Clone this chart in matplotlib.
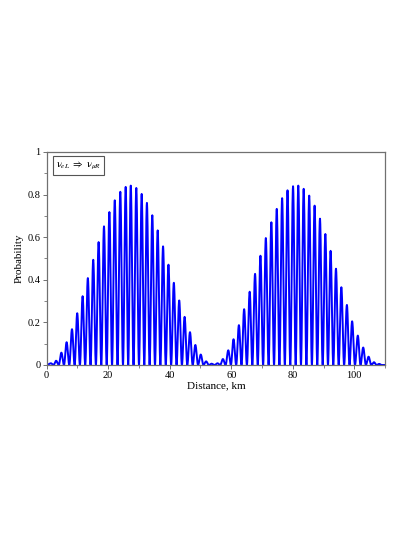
import numpy as np
import matplotlib
matplotlib.use("Agg")
import matplotlib.pyplot as plt

# Peak positions (km) and peak heights
peak_km = [1.4, 3.1, 4.8, 6.5, 8.25, 9.95, 11.7, 13.4, 15.15, 16.9, 18.65, 20.4,
           22.15, 23.95, 25.7, 27.35, 29.15, 30.9, 32.6, 34.35, 36.1, 37.85, 39.6,
           41.35, 43.1, 44.85, 46.6, 48.35, 50.1, 51.85, 53.6, 55.55, 57.3, 59.05,
           60.75, 62.5, 64.2, 66.0, 67.75, 69.5, 71.25, 73.05, 74.8, 76.55, 78.3,
           80.1, 81.8, 83.55, 85.35, 87.1, 88.85, 90.6, 92.3, 94.05, 95.8, 97.6,
           99.3, 101.15, 102.9, 104.65, 106.4, 108.1]
peak_prob = [0.008, 0.020, 0.058, 0.107, 0.168, 0.243, 0.323, 0.408, 0.494, 0.577,
             0.651, 0.718, 0.773, 0.813, 0.836, 0.842, 0.831, 0.803, 0.761, 0.703,
             0.632, 0.557, 0.471, 0.386, 0.303, 0.226, 0.154, 0.094, 0.049, 0.017,
             0.006, 0.008, 0.028, 0.069, 0.121, 0.187, 0.262, 0.344, 0.428, 0.513,
             0.596, 0.670, 0.733, 0.783, 0.820, 0.839, 0.842, 0.827, 0.795, 0.748,
             0.687, 0.615, 0.536, 0.452, 0.365, 0.282, 0.205, 0.138, 0.082, 0.039,
             0.013, 0.005]

x_ticks = [0, 20, 40, 60, 80, 100]
y_ticks = [0, 0.2, 0.4, 0.6, 0.8, 1]
y_ticklabels = ["0", "0.2", "0.4", "0.6", "0.8", "1"]

plt.rcParams['font.family'] = ['Liberation Serif', 'DejaVu Serif']
plt.rcParams['mathtext.fontset'] = 'stix'

fig = plt.figure(figsize=(4.15, 5.37), dpi=100)
ax = fig.add_axes([0.1123, 0.3203, 0.8155, 0.3967])

# Render each lobe between the troughs on either side of its peak
p = np.array(peak_km)
h = np.array(peak_prob)
xs, ys = [0.0], [0.0]
for i in range(len(p)):
    tl = 0.0 if i == 0 else (p[i - 1] + p[i]) / 2
    tr = p[i] + (p[i] - p[i - 1]) / 2 if i == len(p) - 1 else (p[i] + p[i + 1]) / 2
    u = np.linspace(0, 1, 25)
    xa = tl + u * (p[i] - tl)
    ya = h[i] * np.sin(np.pi / 2 * u) ** 2
    xb = p[i] + u[1:] * (tr - p[i])
    yb = h[i] * np.cos(np.pi / 2 * u[1:]) ** 2
    xs.extend(xa[1:]); ys.extend(ya[1:])
    xs.extend(xb); ys.extend(yb)
xs.append(110.0); ys.append(0.0)

ax.plot(xs, ys, color='#0000ff', lw=1.4)

ax.set_xlim(0, 110)
ax.set_ylim(0, 1)
ax.set_xticks(x_ticks)
ax.set_xticks([10, 30, 50, 70, 90, 110], minor=True)
ax.set_yticks(y_ticks)
ax.set_yticklabels(y_ticklabels)
ax.set_yticks([0.1, 0.3, 0.5, 0.7, 0.9], minor=True)
for s in ax.spines.values():
    s.set_color('#707070')
    s.set_linewidth(0.9)
ax.tick_params(which='major', length=3, width=0.7, color='#707070', labelsize=7.5, pad=1.5)
ax.tick_params(which='minor', length=2, width=0.6, color='#707070')

ax.set_xlabel('Distance, km', fontsize=8, labelpad=1)
ax.set_ylabel('Probability', fontsize=8, labelpad=3)

ax.text(0.028, 0.965, r'$\mathrm{\nu}_{eL}\ \Rightarrow\ \mathrm{\nu}_{\mu R}$', transform=ax.transAxes,
        fontsize=7.5, va='top', ha='left',
        bbox=dict(boxstyle='square,pad=0.3', fc='white', ec='#555555', lw=0.8))

fig.savefig('out.png', dpi=100)
